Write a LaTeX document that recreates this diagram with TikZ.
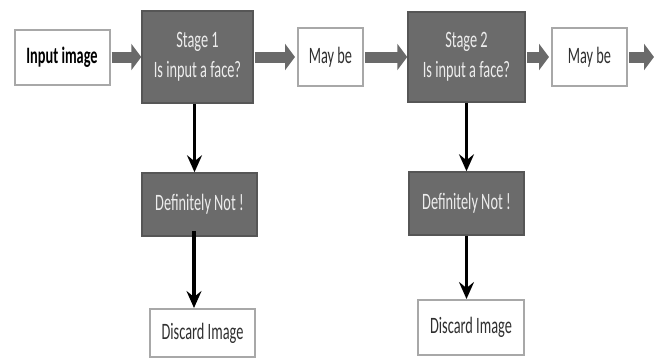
\documentclass[tikz,border=0pt]{standalone}
\usepackage{fontspec}
\usepackage{graphicx}
\setmainfont{Carlito}
\usetikzlibrary{arrows.meta}
\definecolor{stagefill}{HTML}{6B6B6B}
\definecolor{stageline}{HTML}{565656}
\definecolor{whiteline}{HTML}{A8A8A8}
\definecolor{arrowgray}{HTML}{6A6A6A}
\definecolor{darktext}{HTML}{303030}
\definecolor{lighttext}{HTML}{EDEDED}
\newcommand{\sqz}[1]{\scalebox{0.61}[1]{#1}}
\begin{document}
\begin{tikzpicture}[x=1pt,y=-1pt,
  every node/.style={inner sep=0pt, font=\fontsize{23.5}{30}\selectfont, align=center},
  darkbox/.style={draw=stageline, line width=1.5pt, fill=stagefill, text=lighttext},
  whitebox/.style={draw=whiteline, line width=2pt, fill=white, text=darktext},
  grayarrow/.style={draw=arrowgray, line width=11pt, -{Triangle[length=10pt,width=26pt]}, shorten <=1pt},
  blackarrow/.style={draw=black, line width=3.5pt, -{Stealth[length=17pt,width=15pt,inset=6pt]}}
]
\useasboundingbox (0,0) rectangle (662,360);
\fill[white] (0,0) rectangle (662,360);

\node[whitebox, minimum width=95pt, minimum height=55pt, text=black] (in) at (62,57) {\sqz{\bfseries Input image}};
\node[darkbox, minimum width=111pt, minimum height=92pt] (s1) at (197.5,57) {\sqz{Stage 1}\\\sqz{Is input a face?}};
\node[whitebox, minimum width=65pt, minimum height=58pt] (m1) at (330.5,57) {\sqz{May be}};
\node[darkbox, minimum width=117pt, minimum height=90pt] (s2) at (466.5,57) {\sqz{Stage 2}\\\sqz{Is input a face?}};
\node[whitebox, minimum width=75pt, minimum height=58pt] (m2) at (589.5,57) {\sqz{May be}};
\coordinate (end) at (654,57);

\node[darkbox, minimum width=115pt, minimum height=63pt] (d1) at (199.5,204.5) {\sqz{Definitely Not !}};
\node[darkbox, minimum width=115pt, minimum height=63pt] (d2) at (466.5,203.5) {\sqz{Definitely Not !}};
\node[whitebox, minimum width=105pt, minimum height=48pt] (x1) at (202.5,333) {\sqz{Discard Image}};
\node[whitebox, minimum width=106pt, minimum height=55pt] (x2) at (471,327.5) {\sqz{Discard Image}};

\draw[grayarrow] (in.east) -- (s1.west);
\draw[grayarrow] (s1.east) -- ([xshift=-2pt]m1.west);
\draw[grayarrow] (m1.east) -- (s2.west);
\draw[grayarrow] (s2.east) -- ([xshift=-2pt]m2.west);
\draw[grayarrow] (m2.east) -- (end);

\draw[blackarrow] ([xshift=-3pt]s1.south) -- ([xshift=-3pt]s1.south |- d1.north);
\draw[blackarrow] ([xshift=-5.5pt,yshift=6pt]d1.south) -- ([xshift=-5.5pt]d1.south |- x1.north);
\draw[blackarrow] (s2.south) -- (s2.south |- d2.north);
\draw[blackarrow] (d2.south) -- (d2.south |- x2.north);
\end{tikzpicture}
\end{document}
